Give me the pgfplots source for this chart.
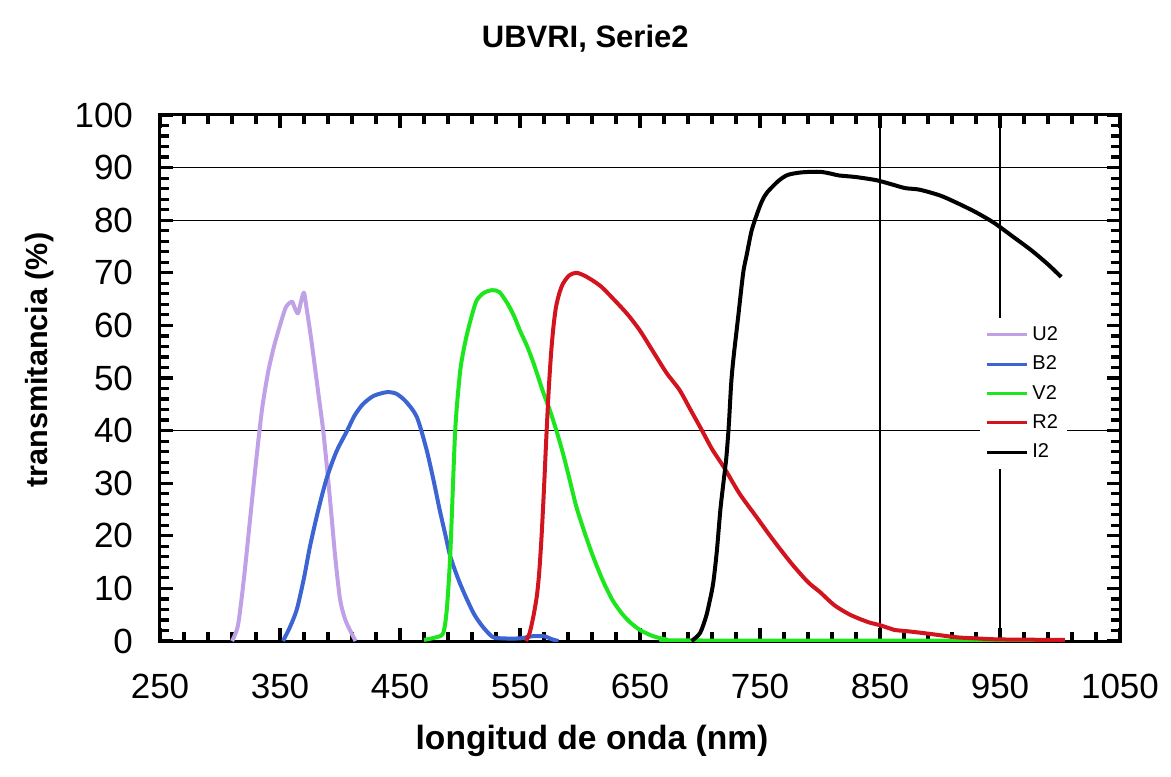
\documentclass[border=0pt]{standalone}
\usepackage{fontspec}
\setmainfont{Liberation Sans}
\usepackage{pgfplots}
\pgfplotsset{compat=1.18}
\definecolor{cU}{RGB}{192,160,230}
\definecolor{cB}{RGB}{60,100,210}
\definecolor{cV}{RGB}{30,230,30}
\definecolor{cR}{RGB}{210,20,30}
\begin{document}
\begin{tikzpicture}
\useasboundingbox (-80bp,-68bp) rectangle (505.5bp,320.5bp);
\begin{axis}[
  at={(0,0)}, anchor=south west,
  width=480bp, height=263bp, scale only axis,
  xmin=250, xmax=1050, ymin=0, ymax=100,
  xtick={250,350,...,1050}, ytick={0,10,...,100},
  minor x tick num=4, minor y tick num=4,
  axis line style={line width=1.5bp},
  every tick/.style={black, line width=1.6bp},
  major tick length=6.5bp, minor tick length=4.5bp,
  tick align=inside,
  extra x ticks={850,950}, extra y ticks={40,80,90},
  extra x tick labels={}, extra y tick labels={},
  extra tick style={grid=major, major grid style={black, line width=0.6bp}, major tick length=0pt},
  /pgf/number format/assume math mode=true,
  /pgf/number format/set thousands separator={},
  tick label style={font=\fontsize{17.5bp}{20bp}\selectfont},
  yticklabel style={xshift=-10bp},
  xticklabel style={yshift=-13bp},
  title={UBVRI, Serie2},
  title style={font=\bfseries\fontsize{15.5bp}{18bp}\selectfont, at={(axis description cs:0.443,1.123)}, anchor=center},
  xlabel={longitud de onda (nm)},
  xlabel style={font=\bfseries\fontsize{16.8bp}{19bp}\selectfont, at={(axis description cs:0.45,-0.19)}, anchor=center},
  ylabel={transmitancia (\%)},
  ylabel style={font=\bfseries\fontsize{15.3bp}{18bp}\selectfont, at={(axis description cs:-0.125,0.534)}, anchor=center},
  legend style={at={(axis description cs:0.854,0.614)}, anchor=north west, draw=none, fill=white,
    font=\fontsize{10bp}{11bp}\selectfont, row sep=2.2bp, inner xsep=2.5bp, inner ysep=2bp},
  legend cell align=left,
  legend image code/.code={\draw[#1, line width=1.6bp] (0bp,0bp) -- (20bp,0bp);},
  every axis plot/.append style={line width=2bp, line join=round, smooth, tension=0.45},
]
\addplot[cU] coordinates {
(310,0) (315,3) (320,12) (325,23) (330,34) (335,44) (340,51) (345,56) (350,60) (355,63.5) (360,64.5) (362,63.5) (365,62.3) (368,65) (370,66.2) (372,63.5) (375,59) (378,54) (382,47) (386,40) (390,31) (393,23.6) (396,16) (400,8) (404,4.3) (408,2.2) (413,0)};
\addlegendentry{U2}
\addplot[cB] coordinates {
(352.5,0) (358,2.5) (364,6) (370,12) (375,18) (382,25) (389,31) (397,36) (406,40) (412,42.8) (419,45) (428,46.6) (439,47.3) (447,47) (455,45.5) (464,42.6) (472,36.5) (478,30.5) (483,25) (488,20) (492,16) (499,11.5) (506,7.8) (512,5) (519,2.7) (527,0.8) (535,0.5) (550,0.5) (560,0.9) (570,0.9) (577,0.3) (582,0)};
\addlegendentry{B2}
\addplot[cV] coordinates {
(470,0.2) (480,0.7) (486,1.5) (489,6) (492,17) (496,40) (500,51) (503,55.3) (506,58.5) (510,62) (514,64.8) (520,66.2) (527,66.7) (533,66.3) (540,64) (545,61.8) (550,59) (556,56) (561,53) (565,50.3) (569,47.5) (575,43.8) (581,39.5) (586,35.5) (591,31) (597,25.5) (604,20.5) (611,16) (619,11.5) (627,7.8) (635,5.2) (642,3.5) (650,2.1) (660,1) (672,0.3) (690,0.1) (1000,0.1)};
\addlegendentry{V2}
\addplot[cR] coordinates {
(555,0) (558,1.5) (561,4.5) (564,8.5) (566,13) (568,20) (570,29) (572,39) (574,48) (576,55) (578,60) (580,63.5) (583,66.3) (586,68) (591,69.5) (597,70) (605,69.3) (617,67.5) (630,64.5) (640,62) (650,59) (661,55) (672,51) (683,47.7) (692,44) (701,40.3) (710,36.5) (720,33) (733,28) (747,23.6) (760,19.5) (776,14.8) (790,11.2) (800,9.3) (812,6.8) (825,5) (840,3.6) (850,3) (858,2.4) (862,2.1) (875,1.8) (890,1.4) (914,0.7) (930,0.5) (950,0.3) (1004,0.2)};
\addlegendentry{R2}
\addplot[black] coordinates {
(693,0) (700,1.5) (705,4.6) (708,7.5) (711,11) (714,17) (717,25) (720,31) (722,35) (724,41) (726,49) (728,54) (732,62) (736,70) (739,73.5) (743,78) (748,81.5) (752,83.8) (756,85.3) (765,87.4) (773,88.6) (785,89.1) (800,89.2) (810,88.8) (816,88.5) (830,88.2) (847,87.6) (860,86.8) (871,86.1) (883,85.8) (900,84.7) (914,83.3) (930,81.5) (945,79.5) (960,77) (976,74.3) (990,71.6) (1001,69.2)};
\addlegendentry{I2}
\end{axis}
\end{tikzpicture}
\end{document}
